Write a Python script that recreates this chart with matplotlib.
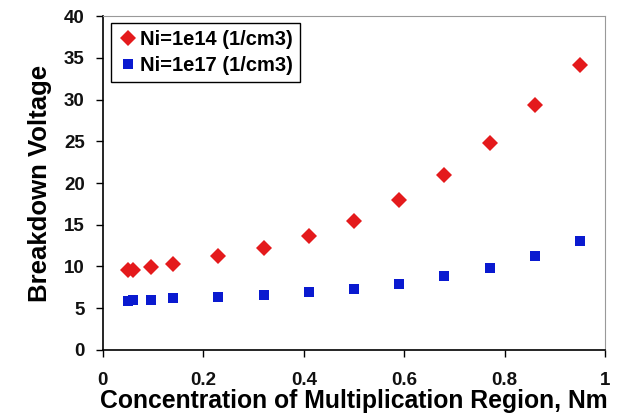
import matplotlib
matplotlib.use('Agg')
import matplotlib.pyplot as plt

plt.rcParams['font.family'] = ['Liberation Sans', 'DejaVu Sans']

nm = [0.05, 0.06, 0.095, 0.14, 0.23, 0.32, 0.41, 0.50, 0.59, 0.68, 0.77, 0.86, 0.95]
bv_1e14 = [9.6, 9.6, 9.9, 10.3, 11.2, 12.2, 13.6, 15.5, 18.0, 21.0, 24.8, 29.3, 34.2]
bv_1e17 = [5.9, 6.0, 6.0, 6.2, 6.35, 6.6, 6.9, 7.35, 7.9, 8.8, 9.8, 11.25, 13.1]

fig = plt.figure(figsize=(6.2, 4.15), dpi=100)
ax = fig.add_axes([0.166, 0.157, 0.81, 0.804])

ax.plot(nm, bv_1e14, 'D', color='#e41a1c', markersize=8, markeredgewidth=0,
        label='Ni=1e14 (1/cm3)')
ax.plot(nm, bv_1e17, 's', color='#0a1ad0', markersize=7.5, markeredgewidth=0,
        label='Ni=1e17 (1/cm3)')

ax.set_xlim(0, 1)
ax.set_ylim(0, 40)
ax.set_xticks([0, 0.2, 0.4, 0.6, 0.8, 1])
ax.set_xticklabels(['0', '0.2', '0.4', '0.6', '0.8', '1'])
ax.set_yticks(range(0, 45, 5))

for s in ['left', 'bottom']:
    ax.spines[s].set_color('black')
    ax.spines[s].set_linewidth(1.2)
for s in ['top', 'right']:
    ax.spines[s].set_color('#999999')
    ax.spines[s].set_linewidth(0.8)

ax.tick_params(direction='out', length=5, width=1, labelsize=13.5)
ax.tick_params(axis='x', pad=11)
ax.tick_params(axis='y', pad=8)
for lab in ax.get_xticklabels() + ax.get_yticklabels():
    lab.set_fontweight('bold')
    lab.set_color('#111111')

ax.set_xlabel('Concentration of Multiplication Region, Nm', fontsize=17.8,
              fontweight='bold', labelpad=0)
ax.set_ylabel('Breakdown Voltage', fontsize=18.5, fontweight='bold', labelpad=9)

leg = ax.legend(loc='upper left', bbox_to_anchor=(0.016, 0.979), borderaxespad=0,
                fancybox=False, edgecolor='black', framealpha=1,
                handletextpad=0.1, borderpad=0.35, labelspacing=0.35,
                handlelength=1.0, prop={'size': 14.5, 'weight': 'bold'})
leg.get_frame().set_linewidth(1.0)

fig.savefig('out.png', dpi=100)
